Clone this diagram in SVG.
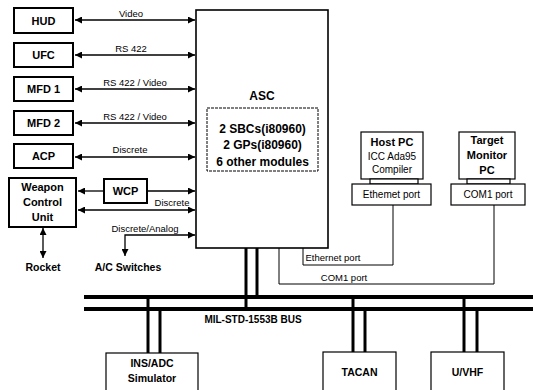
<svg xmlns="http://www.w3.org/2000/svg" width="533" height="390" viewBox="0 0 533 390">
<defs>
<marker id="ah" viewBox="0 0 10 10" refX="10" refY="5" markerWidth="10" markerHeight="7" markerUnits="userSpaceOnUse" orient="auto-start-reverse">
<path d="M0,0 L10,5 L0,10 z" fill="#000"/>
</marker>
<style>
.box{fill:#fff;stroke:#000;stroke-width:2}
.tbox{fill:#fff;stroke:#000;stroke-width:1.2}
.b{font-family:"Liberation Sans",Arial,sans-serif;font-weight:bold;font-size:11px;text-anchor:middle;fill:#000}
.r{font-family:"Liberation Sans",Arial,sans-serif;font-size:9.5px;text-anchor:middle;fill:#000}
.a{stroke:#000;stroke-width:1.3;fill:none}
.w{stroke:#000;stroke-width:1;fill:none}
.bus{stroke:#000;stroke-width:4;fill:none}
.stub{stroke:#000;stroke-width:3;fill:none}
</style>
</defs>
<rect width="533" height="390" fill="#fff"/>
<g id="connectors">
<line class="a" x1="75" y1="20" x2="195" y2="20" marker-start="url(#ah)" marker-end="url(#ah)"/>
<line class="a" x1="75" y1="55" x2="195" y2="55" marker-start="url(#ah)" marker-end="url(#ah)"/>
<line class="a" x1="75" y1="89" x2="195" y2="89" marker-start="url(#ah)" marker-end="url(#ah)"/>
<line class="a" x1="75" y1="123" x2="195" y2="123" marker-start="url(#ah)" marker-end="url(#ah)"/>
<line class="a" x1="75" y1="157" x2="195" y2="157" marker-start="url(#ah)" marker-end="url(#ah)"/>
<line class="a" x1="104" y1="191" x2="78" y2="191" marker-end="url(#ah)"/>
<line class="a" x1="147" y1="191" x2="195" y2="191" marker-end="url(#ah)"/>
<line class="a" x1="78" y1="210" x2="195" y2="210" marker-start="url(#ah)" marker-end="url(#ah)"/>
<path class="a" d="M125,256 L125,235 L195,235" marker-start="url(#ah)" marker-end="url(#ah)"/>
<line class="a" x1="43" y1="228" x2="43" y2="258" marker-start="url(#ah)" marker-end="url(#ah)"/>
<text class="r" x="131" y="17">Video</text>
<text class="r" x="131" y="52">RS 422</text>
<text class="r" x="135" y="86">RS 422 / Video</text>
<text class="r" x="135" y="120">RS 422 / Video</text>
<text class="r" x="130" y="153">Discrete</text>
<text class="r" x="172" y="206">Discrete</text>
<text class="r" x="145" y="232">Discrete/Analog</text>
<path class="w" d="M303,248 L303,265 L393,265 L393,205"/>
<path class="w" d="M279,248 L279,284 L494,284 L494,205"/>
<text class="r" x="333" y="261">Ethernet port</text>
<text class="r" x="344" y="281">COM1 port</text>
<line class="bus" x1="84" y1="297" x2="533" y2="297"/>
<line class="bus" x1="84" y1="309" x2="533" y2="309"/>
<line class="stub" x1="246" y1="248" x2="246" y2="309"/>
<line class="stub" x1="257" y1="248" x2="257" y2="297"/>
<line class="stub" x1="148" y1="297" x2="148" y2="353"/>
<line class="stub" x1="160" y1="309" x2="160" y2="353"/>
<line class="stub" x1="353" y1="297" x2="353" y2="352"/>
<line class="stub" x1="365" y1="309" x2="365" y2="352"/>
<line class="stub" x1="464" y1="297" x2="464" y2="352"/>
<line class="stub" x1="477" y1="309" x2="477" y2="352"/>
<text class="b" x="253" y="323" style="font-size:10px">MIL-STD-1553B BUS</text>
</g>
<g id="HUD"><rect class="box" x="14" y="8" width="59" height="25"/><text class="b" x="43.5" y="25">HUD</text></g>
<g id="UFC"><rect class="box" x="14" y="43" width="59" height="24"/><text class="b" x="43.5" y="59">UFC</text></g>
<g id="MFD1"><rect class="box" x="14" y="77" width="59" height="24"/><text class="b" x="43.5" y="93">MFD 1</text></g>
<g id="MFD2"><rect class="box" x="14" y="111" width="59" height="24"/><text class="b" x="43.5" y="127">MFD 2</text></g>
<g id="ACP"><rect class="box" x="14" y="144" width="59" height="24"/><text class="b" x="43.5" y="160">ACP</text></g>
<g id="WCU"><rect class="box" x="9" y="178" width="67" height="49"/><text class="b" x="42.5" y="191">Weapon</text><text class="b" x="42.5" y="206">Control</text><text class="b" x="42.5" y="221">Unit</text></g>
<g id="WCP"><rect class="box" x="104" y="179" width="43" height="24"/><text class="b" x="125.5" y="195">WCP</text></g>
<g id="Rocket"><text class="b" x="43" y="271" style="font-size:10.5px">Rocket</text></g>
<g id="ACSwitches"><text class="b" x="128" y="271" style="font-size:10.5px">A/C Switches</text></g>
<g id="ASC">
<rect class="box" x="196" y="10" width="132" height="238" style="stroke-width:1.6"/>
<text class="b" x="262" y="100" style="font-size:12px">ASC</text>
<rect x="207" y="108" width="111" height="63" fill="#fff" stroke="#000" stroke-width="1" stroke-dasharray="3,1"/>
<text class="b" x="262.5" y="133" style="font-size:12px">2 SBCs(i80960)</text>
<text class="b" x="262.5" y="149" style="font-size:12px">2 GPs(i80960)</text>
<text class="b" x="262.5" y="166" style="font-size:12px">6 other modules</text>
</g>
<g id="HostPC">
<rect class="tbox" x="361" y="132" width="62" height="47"/>
<rect class="tbox" x="370" y="179" width="48" height="5"/>
<rect class="tbox" x="352" y="184" width="79" height="21"/>
<text class="b" x="392" y="146">Host PC</text>
<text class="r" x="392" y="160" style="font-size:10px">ICC Ada95</text>
<text class="r" x="392" y="173" style="font-size:10px">Compiler</text>
<text class="r" x="391.5" y="198" style="font-size:10px">Ethemet port</text>
</g>
<g id="TargetPC">
<rect class="tbox" x="459" y="132" width="56" height="47"/>
<rect class="tbox" x="467" y="179" width="43" height="5"/>
<rect class="tbox" x="451" y="184" width="74" height="21"/>
<text class="b" x="487" y="144">Target</text>
<text class="b" x="487" y="159">Monitor</text>
<text class="b" x="487" y="174">PC</text>
<text class="r" x="488" y="198" style="font-size:10px">COM1 port</text>
</g>
<g id="INSADC"><rect class="tbox" x="106" y="353" width="92" height="45"/><text class="b" x="152" y="367" style="font-size:10.5px">INS/ADC</text><text class="b" x="152" y="382" style="font-size:10.5px">Simulator</text></g>
<g id="TACAN"><rect class="tbox" x="323" y="352" width="73" height="45"/><text class="b" x="359.5" y="376" style="font-size:10.5px">TACAN</text></g>
<g id="UVHF"><rect class="tbox" x="431" y="352" width="73" height="45"/><text class="b" x="467.5" y="376" style="font-size:10.5px">U/VHF</text></g>
</svg>
